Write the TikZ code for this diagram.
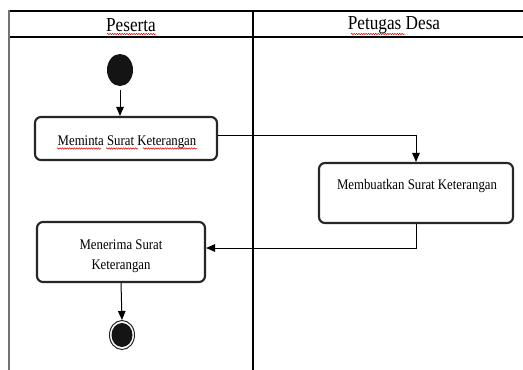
\documentclass[tikz,border=0pt]{standalone}
\usepackage{fontspec}
\usepackage{graphicx}
\setmainfont{Liberation Serif}
\usetikzlibrary{arrows.meta,decorations.pathmorphing,shapes.geometric}

% slightly tall lettering, as set in the original document
\newcommand{\tallhead}[1]{\scalebox{1}[1.15]{\fontsize{17.2}{20}\selectfont #1}}
\newcommand{\tallbody}[1]{\scalebox{1}[1.15]{\fontsize{12.8}{15}\selectfont #1}}

\tikzset{
  lane/.style={draw=black, line width=1.4pt},
  laneedge/.style={draw=black!55, line width=2.2pt},
  actbox/.style={draw=black!85, line width=2.1pt, rounded corners=6pt,
                 fill=white, inner sep=0pt},
  lbl/.style={inner sep=0pt, text=black},
  flow/.style={draw=black, line width=1pt,
               -{Triangle[length=9pt,width=7.5pt]}},
  startdot/.style={ellipse, fill=black!92, inner sep=0pt,
                   minimum width=26pt, minimum height=32pt},
  endring/.style={ellipse, draw=black!85, line width=1pt, fill=white,
                  inner sep=0pt, minimum width=25pt, minimum height=29pt},
  enddot/.style={ellipse, fill=black!92, inner sep=0pt,
                 minimum width=21pt, minimum height=24pt},
  spell/.style={draw=red!85!black, line width=0.5pt,
                decorate, decoration={snake, amplitude=0.7pt, segment length=2.4pt}}
}

\begin{document}
\begin{tikzpicture}[x=1pt, y=-1pt]
  \useasboundingbox[fill=white] (0,0) rectangle (523,370);

  % swimlane frame
  \draw[lane] (9,11) -- (523,11);
  \draw[lane] (9,37) -- (523,37);
  \draw[lane] (253,11) -- (253,370);
  \draw[laneedge] (9,10.3) -- (9,370);

  % lane headings
  \node[lbl] (hpeserta) at (131,25.5) {\tallhead{Peserta}};
  \node[lbl] (hpetugas) at (394,25.5) {\tallhead{Petugas Desa}};
  \draw[spell] (107,34) -- (156,34);
  \draw[spell] (351,34) -- (405,34);

  % start node
  \node[startdot] (start) at (120,70) {};

  % activities
  \node[actbox, minimum width=182pt, minimum height=43pt] (meminta) at (126,138.5) {};
  \node[lbl] (memintatxt) at (127,142) {\tallbody{Meminta Surat Keterangan}};
  \draw[spell] (57,148.5) -- (101,148.5);
  \draw[spell] (106,148.5) -- (138,148.5);
  \draw[spell] (143,148.5) -- (197,148.5);

  \node[actbox, minimum width=194pt, minimum height=60pt] (buat) at (416,193) {};
  \node[lbl] (buattxt) at (417,186) {\tallbody{Membuatkan Surat Keterangan}};

  \node[actbox, minimum width=168pt, minimum height=60pt] (terima) at (121,252) {};
  \node[lbl] (terimatxt1) at (121,245) {\tallbody{Menerima Surat}};
  \node[lbl] (terimatxt2) at (121,266) {\tallbody{Keterangan}};

  % final node
  \node[endring] (final) at (122,335) {};
  \node[enddot] (finaldot) at (122,335) {};

  % control flow
  \draw[flow, shorten <=4pt] (start.south) -- (meminta.north -| start.south);
  \draw[flow] ([yshift=3.5pt]meminta.east) -| (buat.north);
  \draw[flow] (buat.south) |- ([yshift=4pt]terima.east);
  \draw[flow] (terima.south) -- (final.north);
\end{tikzpicture}
\end{document}
